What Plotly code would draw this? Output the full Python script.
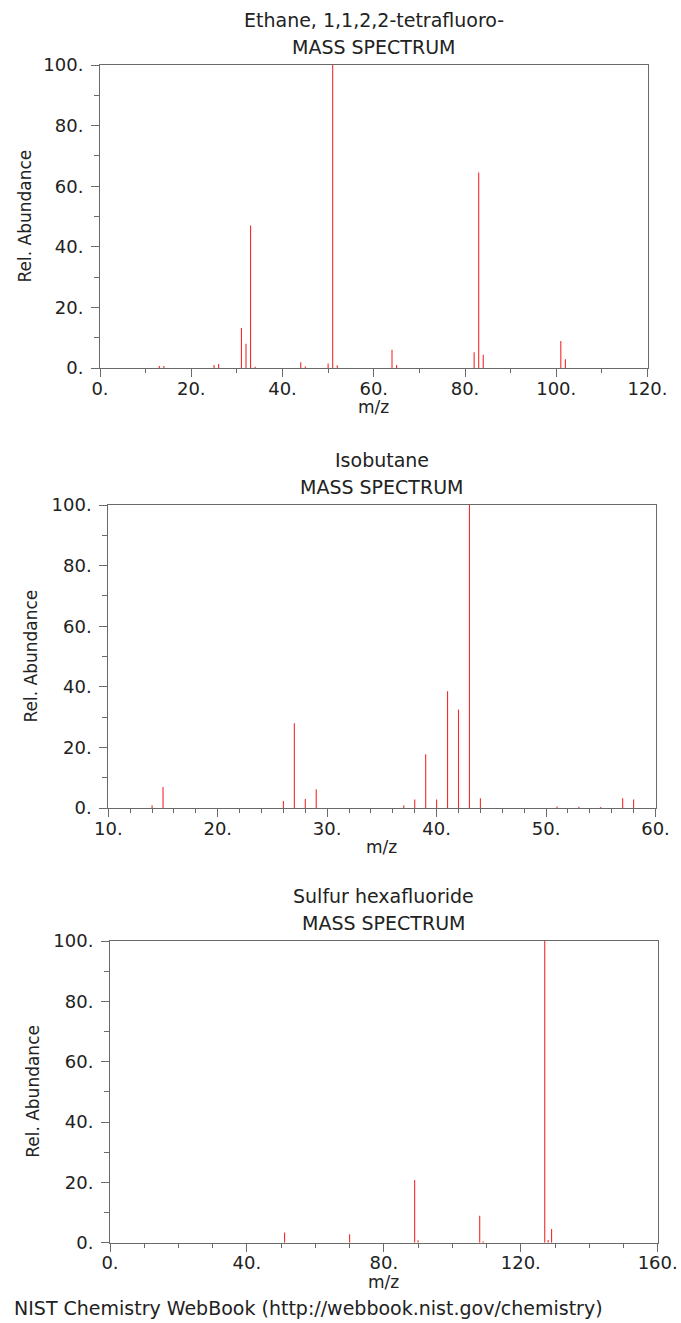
import plotly.graph_objects as go

W, H = 681, 1323

# ---- data ----
titles = ["Ethane, 1,1,2,2-tetrafluoro-", "Isobutane", "Sulfur hexafluoride"]
subtitle = "MASS SPECTRUM"

mz1 = [13, 14, 25, 26, 31, 32, 33, 34, 44, 45, 50, 51, 52, 64, 65, 82, 83, 84, 101, 102]
ab1 = [0.7, 0.7, 1.0, 1.3, 13.2, 8.0, 47.0, 0.4, 1.9, 0.5, 1.5, 100.0, 0.9, 6.0, 1.0, 5.2, 64.5, 4.4, 8.9, 2.9]

mz2 = [14, 15, 26, 27, 28, 29, 37, 38, 39, 40, 41, 42, 43, 44, 51, 53, 55, 57, 58]
ab2 = [0.9, 6.9, 2.3, 28.0, 3.0, 6.2, 0.9, 2.8, 17.7, 2.8, 38.5, 32.5, 100.0, 3.2, 0.5, 0.4, 0.3, 3.2, 2.8]

mz3 = [51, 70, 89, 90, 108, 109, 127, 128, 129]
ab3 = [3.4, 2.8, 20.8, 0.8, 8.9, 0.5, 100.0, 0.9, 4.5]

x_ranges = [(0, 120), (10, 60), (0, 160)]
x_major = [20, 10, 40]
x_minor = [10, 2, 10]
y_range = (0, 100)
y_major, y_minor = 20, 10

# ---- layout geometry (pixels) ----
frames = [  # left, right, top, bottom
    (100, 647.5, 65, 368),
    (108.3, 655.5, 505, 808),
    (110, 657.7, 941, 1242.7),
]
ytitle_x = [25, 30, 33]

FONT = "DejaVu Sans"
AXC = "#6a6a6a"
TXT = "#222222"

fig = go.Figure()
series = [(mz1, ab1), (mz2, ab2), (mz3, ab3)]
for i, (mz, ab) in enumerate(series):
    xs, ys = [], []
    for m, a in zip(mz, ab):
        xs += [m, m, None]
        ys += [0, a, None]
    sfx = "" if i == 0 else str(i + 1)
    fig.add_trace(go.Scatter(x=xs, y=ys, mode="lines",
                             line=dict(color="#f52a2a", width=1.1),
                             xaxis="x" + sfx, yaxis="y" + sfx,
                             showlegend=False, hoverinfo="skip"))

ann = []
for i, (l, r, t, b) in enumerate(frames):
    sfx = "" if i == 0 else str(i + 1)
    xd = [l / W, r / W]
    yd = [1 - b / H, 1 - t / H]
    common = dict(showline=True, linecolor=AXC, linewidth=1, mirror=True,
                  ticks="outside", tickcolor=AXC, ticklen=8, tickwidth=1,
                  showgrid=False, zeroline=False, ticksuffix=".", automargin=False,
                  tickfont=dict(family=FONT, size=18, color=TXT))
    fig.layout["xaxis" + sfx] = dict(
        domain=xd, range=list(x_ranges[i]), anchor="y" + sfx,
        tick0=x_ranges[i][0], dtick=x_major[i], ticklabelstandoff=-4,
        minor=dict(ticks="outside", ticklen=4, tickcolor=AXC, dtick=x_minor[i],
                   tick0=x_ranges[i][0]),
        **common)
    fig.layout["yaxis" + sfx] = dict(
        domain=yd, range=list(y_range), anchor="x" + sfx,
        tick0=0, dtick=y_major, ticklabelstandoff=4,
        minor=dict(ticks="outside", ticklen=5, tickcolor=AXC, dtick=y_minor, tick0=0),
        **common)
    cx = (l + r) / 2
    ann.append(dict(text=titles[i], x=cx / W, y=1 - (t - 45) / H, xref="paper", yref="paper",
                    showarrow=False, font=dict(family=FONT, size=19, color=TXT),
                    xanchor="center", yanchor="middle"))
    ann.append(dict(text=subtitle, x=cx / W, y=1 - (t - 18) / H, xref="paper", yref="paper",
                    showarrow=False, font=dict(family=FONT, size=19, color=TXT),
                    xanchor="center", yanchor="middle"))
    ann.append(dict(text="m/z", x=cx / W, y=1 - (b + 39) / H, xref="paper", yref="paper",
                    showarrow=False, font=dict(family=FONT, size=17, color=TXT),
                    xanchor="center", yanchor="middle"))
    ann.append(dict(text="Rel. Abundance", x=ytitle_x[i] / W, y=1 - ((t + b) / 2) / H,
                    xref="paper", yref="paper", textangle=-90,
                    showarrow=False, font=dict(family=FONT, size=17, color=TXT),
                    xanchor="center", yanchor="middle"))

ann.append(dict(text="NIST Chemistry WebBook (http://webbook.nist.gov/chemistry)",
                x=12 / W, y=1 - 1308 / H, xref="paper", yref="paper", showarrow=False,
                font=dict(family=FONT, size=19, color=TXT), xanchor="left", yanchor="middle"))

fig.update_layout(width=W, height=H, margin=dict(l=0, r=0, t=0, b=0),
                  paper_bgcolor="white", plot_bgcolor="white", template="none",
                  annotations=ann, showlegend=False)

fig.write_html("out.html", config={"displayModeBar": False, "staticPlot": True},
               post_script="document.body.style.margin='0';document.body.style.overflow='hidden';")
